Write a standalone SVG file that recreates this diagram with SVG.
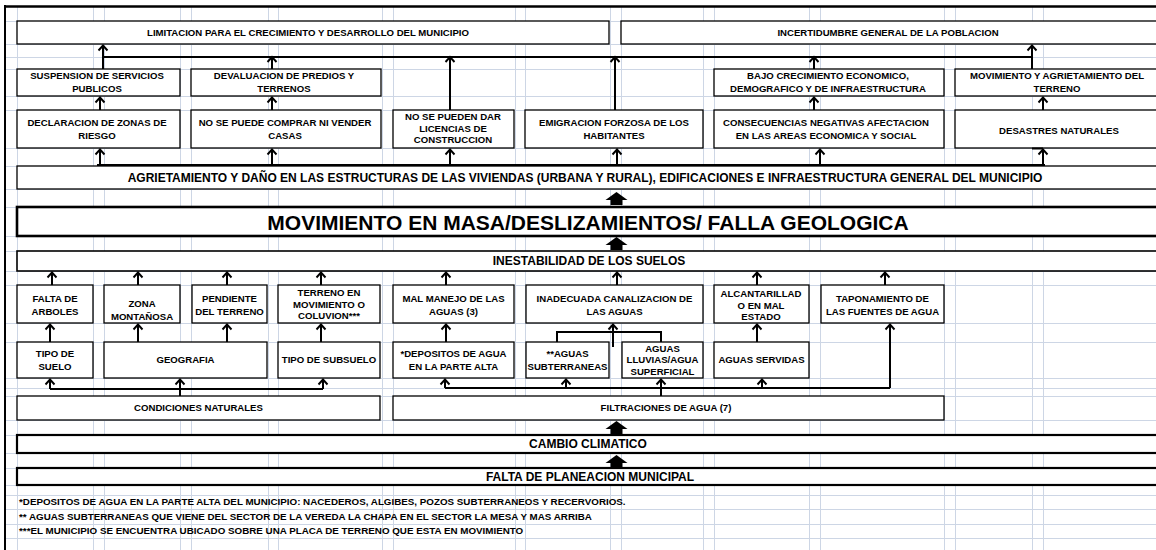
<svg xmlns="http://www.w3.org/2000/svg" xmlns:xlink="http://www.w3.org/1999/xlink" width="1156" height="550" viewBox="0 0 1156 550">
  <style>
    .grid { stroke:#cdd6e5; stroke-width:1; fill:none; }
    .box { fill:#fff; stroke:#000; stroke-width:1.3; }
    .bw { stroke-width:1.6; }
    .bk { stroke-width:2.6; }
    .bm { stroke-width:2.2; }
    .t { font-family:'Liberation Sans', Arial, sans-serif; font-weight:bold; font-size:9.6px; fill:#000; text-anchor:middle; }
    .tw { font-size:12px; }
    .th { font-size:21px; }
    .fn { text-anchor:start; font-size:9.8px; }
    .ln { stroke:#000; stroke-width:2; fill:none; }
    .ar { marker-end:url(#ah); }
  </style>
  <defs>
    <marker id="ah" viewBox="-7 -7 14 14" refX="0" refY="0" markerWidth="14" markerHeight="14" markerUnits="userSpaceOnUse" orient="auto">
      <path d="M-5,-4.5 L0,0 L-5,4.5" fill="none" stroke="#000" stroke-width="1.9"/>
    </marker>
    <path id="blk" d="M0,0 L11,8 L6,8 L6,13 L-6,13 L-6,8 L-11,8 Z" fill="#000"/>
  </defs>

  <rect width="1156" height="550" fill="#fff"/>

  <!-- spreadsheet gridlines -->
  <g id="grid" class="grid">
    <path d="M17.5,6V550M93.5,6V550M104.5,6V550M180.5,6V550M191.5,6V550M268.5,6V550M278.5,6V550M382.5,6V550M393.5,6V550M515.5,6V550M525.5,6V550M610.5,6V550M621.5,6V550M703.5,6V550M714.5,6V550M809.5,6V550M820.5,6V550M944.5,6V550M955.5,6V550M1032.5,6V550M1043.5,6V550"/>
    <path d="M5,21.5H1156M5,44.5H1156M5,57.5H1156M5,69.5H1156M5,96.5H1156M5,110.5H1156M5,148.5H1156M5,166.5H1156M5,189.5H1156M5,207.5H1156M5,236.5H1156M5,251.5H1156M5,271.5H1156M5,285.5H1156M5,323.5H1156M5,342.5H1156M5,378.5H1156M5,388.5H1156M5,396.5H1156M5,420.5H1156M5,435.5H1156M5,453.5H1156M5,468.5H1156M5,485.5H1156M5,495.5H1156M5,509.5H1156M5,524.5H1156M5,538.5H1156"/>
  </g>

  <!-- sheet frame -->
  <g id="frame">
    <line x1="4" y1="6.5" x2="1156" y2="6.5" stroke="#000" stroke-width="2.5"/>
    <line x1="5" y1="5" x2="5" y2="550" stroke="#000" stroke-width="2"/>
  </g>

  <!-- effects -->
  <g id="n_limitacion"><rect class="box" x="17" y="21" width="592" height="23"/><text class="t" x="308" y="36.4">LIMITACION PARA EL CRECIMIENTO Y DESARROLLO DEL MUNICIPIO</text></g>
  <g id="n_incertidumbre"><rect class="box" x="621" y="21" width="540" height="23"/><text class="t" x="888" y="36.4">INCERTIDUMBRE GENERAL DE LA POBLACION</text></g>
  <g id="n_suspension"><rect class="box" x="17" y="69" width="163" height="27"/><text class="t"><tspan x="97" y="79.4">SUSPENSION DE SERVICIOS</tspan><tspan x="97" y="92.4">PUBLICOS</tspan></text></g>
  <g id="n_devaluacion"><rect class="box" x="191" y="69" width="190" height="27"/><text class="t"><tspan x="284" y="79.4">DEVALUACION DE PREDIOS Y</tspan><tspan x="284" y="92.4">TERRENOS</tspan></text></g>
  <g id="n_bajo"><rect class="box" x="714" y="69" width="230" height="27"/><text class="t"><tspan x="828" y="79.4">BAJO CRECIMIENTO ECONOMICO,</tspan><tspan x="828" y="92.4">DEMOGRAFICO Y DE INFRAESTRUCTURA</tspan></text></g>
  <g id="n_movterreno"><rect class="box" x="955" y="69" width="206" height="27"/><text class="t"><tspan x="1057" y="79.4">MOVIMIENTO Y AGRIETAMIENTO DEL</tspan><tspan x="1057" y="92.4">TERRENO</tspan></text></g>
  <g id="n_declaracion"><rect class="box" x="17" y="110" width="163" height="38"/><text class="t"><tspan x="97" y="126.4">DECLARACION DE ZONAS DE</tspan><tspan x="97" y="139.4">RIESGO</tspan></text></g>
  <g id="n_comprar"><rect class="box" x="191" y="110" width="190" height="38"/><text class="t"><tspan x="285" y="126.4">NO SE PUEDE COMPRAR NI VENDER</tspan><tspan x="285" y="139.4">CASAS</tspan></text></g>
  <g id="n_licencias"><rect class="box" x="393" y="110" width="121" height="38"/><text class="t"><tspan x="453" y="120.4">NO SE PUEDEN DAR</tspan><tspan x="453" y="131.9">LICENCIAS DE</tspan><tspan x="453" y="143.4">CONSTRUCCION</tspan></text></g>
  <g id="n_emigracion"><rect class="box" x="525" y="110" width="178" height="38"/><text class="t"><tspan x="614" y="126.4">EMIGRACION FORZOSA DE LOS</tspan><tspan x="614" y="139.4">HABITANTES</tspan></text></g>
  <g id="n_consecuencias"><rect class="box" x="714" y="110" width="230" height="38"/><text class="t"><tspan x="826" y="126.4">CONSECUENCIAS NEGATIVAS AFECTACION</tspan><tspan x="826" y="139.4">EN LAS AREAS ECONOMICA Y SOCIAL</tspan></text></g>
  <g id="n_desastres"><rect class="box" x="955" y="110" width="206" height="38"/><text class="t" x="1059" y="134.4">DESASTRES NATURALES</text></g>

  <!-- central problem -->
  <g id="n_agrietamiento"><rect class="box" x="17" y="166" width="1144" height="23"/><text class="t tw" x="585" y="182.3">AGRIETAMIENTO Y DAÑO EN LAS ESTRUCTURAS DE LAS VIVIENDAS (URBANA Y RURAL), EDIFICACIONES E INFRAESTRUCTURA GENERAL DEL MUNICIPIO</text></g>
  <g id="n_movimiento"><rect class="box bk" x="17" y="207" width="1144" height="29"/><text class="t th" x="588" y="229.5">MOVIMIENTO EN MASA/DESLIZAMIENTOS/ FALLA GEOLOGICA</text></g>
  <g id="n_inestabilidad"><rect class="box bw" x="17" y="251" width="1144" height="20"/><text class="t tw" x="589" y="265.3">INESTABILIDAD DE LOS SUELOS</text></g>

  <!-- causes -->
  <g id="n_arboles"><rect class="box" x="17" y="285" width="76" height="38"/><text class="t"><tspan x="55" y="302.4">FALTA DE</tspan><tspan x="55" y="315.4">ARBOLES</tspan></text></g>
  <g id="n_montanosa"><rect class="box" x="104" y="285" width="76" height="38"/><text class="t"><tspan x="142" y="307.4">ZONA</tspan><tspan x="142" y="320.4">MONTAÑOSA</tspan></text></g>
  <g id="n_pendiente"><rect class="box" x="192" y="285" width="75" height="38"/><text class="t"><tspan x="229.5" y="302.4">PENDIENTE</tspan><tspan x="229.5" y="315.4">DEL TERRENO</tspan></text></g>
  <g id="n_coluvion"><rect class="box" x="278" y="285" width="102" height="38"/><text class="t"><tspan x="329" y="296.1">TERRENO EN</tspan><tspan x="329" y="307.7">MOVIMIENTO O</tspan><tspan x="329" y="319.4">COLUVION***</tspan></text></g>
  <g id="n_malmanejo"><rect class="box" x="393" y="285" width="121" height="38"/><text class="t"><tspan x="453.5" y="302.4">MAL MANEJO DE LAS</tspan><tspan x="453.5" y="315.4">AGUAS (3)</tspan></text></g>
  <g id="n_canalizacion"><rect class="box" x="526" y="285" width="177" height="38"/><text class="t"><tspan x="614.5" y="302.4">INADECUADA CANALIZACION DE</tspan><tspan x="614.5" y="315.4">LAS AGUAS</tspan></text></g>
  <g id="n_alcantarillado"><rect class="box" x="714" y="285" width="95" height="38"/><text class="t"><tspan x="761" y="296.7">ALCANTARILLAD</tspan><tspan x="761" y="309.1">O EN MAL</tspan><tspan x="761" y="320.1">ESTADO</tspan></text></g>
  <g id="n_taponamiento"><rect class="box" x="821" y="285" width="123" height="38"/><text class="t"><tspan x="882.5" y="302.4">TAPONAMIENTO DE</tspan><tspan x="882.5" y="315.4">LAS FUENTES DE AGUA</tspan></text></g>

  <g id="n_suelo"><rect class="box" x="17" y="342" width="76" height="36"/><text class="t"><tspan x="55" y="357.4">TIPO DE</tspan><tspan x="55" y="370.4">SUELO</tspan></text></g>
  <g id="n_geografia"><rect class="box" x="104" y="342" width="163" height="36"/><text class="t" x="185.5" y="363.4">GEOGRAFIA</text></g>
  <g id="n_subsuelo"><rect class="box" x="278" y="342" width="102" height="36"/><text class="t" x="329" y="363.4">TIPO DE SUBSUELO</text></g>
  <g id="n_depositos"><rect class="box" x="393" y="342" width="121" height="36"/><text class="t"><tspan x="453.5" y="357.4">*DEPOSITOS DE AGUA</tspan><tspan x="453.5" y="370.4">EN LA PARTE ALTA</tspan></text></g>
  <g id="n_subterraneas"><rect class="box" x="526" y="342" width="83" height="36"/><text class="t"><tspan x="567.5" y="357.4">**AGUAS</tspan><tspan x="567.5" y="370.4">SUBTERRANEAS</tspan></text></g>
  <g id="n_lluvias"><rect class="box" x="622" y="342" width="81" height="36"/><text class="t"><tspan x="662.5" y="351.7">AGUAS</tspan><tspan x="662.5" y="363.4">LLUVIAS/AGUA</tspan><tspan x="662.5" y="375.1">SUPERFICIAL</tspan></text></g>
  <g id="n_servidas"><rect class="box" x="714" y="342" width="95" height="36"/><text class="t" x="761.5" y="363.4">AGUAS SERVIDAS</text></g>

  <g id="n_condiciones"><rect class="box" x="17" y="396" width="363" height="24"/><text class="t" x="198.5" y="411.4">CONDICIONES NATURALES</text></g>
  <g id="n_filtraciones"><rect class="box" x="393" y="396" width="551" height="24"/><text class="t" x="666" y="411.4">FILTRACIONES DE AGUA (7)</text></g>

  <!-- root causes -->
  <g id="n_cambio"><rect class="box bm" x="17" y="435" width="1144" height="18"/><text class="t tw" x="588" y="448.3">CAMBIO CLIMATICO</text></g>
  <g id="n_falta"><rect class="box bm" x="17" y="468" width="1144" height="17"/><text class="t tw" x="590" y="480.8">FALTA DE PLANEACION MUNICIPAL</text></g>

  <!-- connectors -->
  <g id="connectors">
    <!-- effects bus -->
    <path class="ln" d="M103,57H1032"/>
    <path class="ln ar" d="M103,69V45.5"/>
    <path class="ln ar" d="M272,69V57"/>
    <path class="ln ar" d="M450,110V57"/>
    <path class="ln ar" d="M615,110V57"/>
    <path class="ln ar" d="M814,69V57"/>
    <path class="ln ar" d="M1032,69V45.5"/>
    <path class="ln ar" d="M100,110V97.5"/>
    <path class="ln ar" d="M272,110V97.5"/>
    <path class="ln ar" d="M814,110V97.5"/>
    <path class="ln ar" d="M1043,110V97.5"/>
    <!-- damage bus -->
    <path class="ln" d="M97,165H1045"/>
    <path class="ln ar" d="M100,165V149.5"/>
    <path class="ln ar" d="M272,165V149.5"/>
    <path class="ln ar" d="M450,165V149.5"/>
    <path class="ln ar" d="M617,165V149.5"/>
    <path class="ln ar" d="M820,165V149.5"/>
    <path class="ln ar" d="M1043,165V149.5"/>
    <path class="ln" d="M1032,148.5H1043"/>
    <!-- block arrows -->
    <use xlink:href="#blk" href="#blk" x="616.5" y="192"/>
    <use xlink:href="#blk" href="#blk" x="616.5" y="237"/>
    <use xlink:href="#blk" href="#blk" x="616.5" y="421"/>
    <use xlink:href="#blk" href="#blk" x="616.5" y="455"/>
    <!-- causes into soil instability -->
    <path class="ln ar" d="M52,285V272.5"/>
    <path class="ln ar" d="M138,285V272.5"/>
    <path class="ln ar" d="M227,285V272.5"/>
    <path class="ln ar" d="M321,285V272.5"/>
    <path class="ln ar" d="M446,285V272.5"/>
    <path class="ln ar" d="M617,285V272.5"/>
    <path class="ln ar" d="M757,285V272.5"/>
    <path class="ln ar" d="M885,285V272.5"/>
    <!-- second level causes -->
    <path class="ln ar" d="M50,342V324.5"/>
    <path class="ln ar" d="M138,342V324.5"/>
    <path class="ln ar" d="M227,342V324.5"/>
    <path class="ln ar" d="M321,342V324.5"/>
    <path class="ln ar" d="M446,342V324.5"/>
    <path class="ln ar" d="M757,342V324.5"/>
    <path class="ln" d="M557,342V332H661V342"/>
    <path class="ln ar" d="M613,347V324.5"/>
    <!-- natural conditions bus -->
    <path class="ln" d="M50,389H323"/>
    <path class="ln ar" d="M50,389V379.5"/>
    <path class="ln ar" d="M180,396V379.5"/>
    <path class="ln ar" d="M323,389V379.5"/>
    <!-- water filtration bus -->
    <path class="ln" d="M445,388H890"/>
    <path class="ln ar" d="M445,388V379.5"/>
    <path class="ln ar" d="M566,388V379.5"/>
    <path class="ln ar" d="M661,396V379.5"/>
    <path class="ln ar" d="M762,388V379.5"/>
    <path class="ln ar" d="M890,388V324.5"/>
  </g>

  <!-- notes -->
  <g id="notes">
    <text class="t fn" x="19" y="505.4">*DEPOSITOS DE AGUA EN LA PARTE ALTA DEL MUNICIPIO: NACEDEROS, ALGIBES, POZOS SUBTERRANEOS Y RECERVORIOS.</text>
    <text class="t fn" x="19" y="519.9">** AGUAS SUBTERRANEAS QUE VIENE DEL SECTOR DE LA VEREDA LA CHAPA EN EL SECTOR LA MESA Y MAS ARRIBA</text>
    <text class="t fn" x="19" y="534.4">***EL MUNICIPIO SE ENCUENTRA UBICADO SOBRE UNA PLACA DE TERRENO QUE ESTA EN MOVIMIENTO</text>
  </g>
</svg>
